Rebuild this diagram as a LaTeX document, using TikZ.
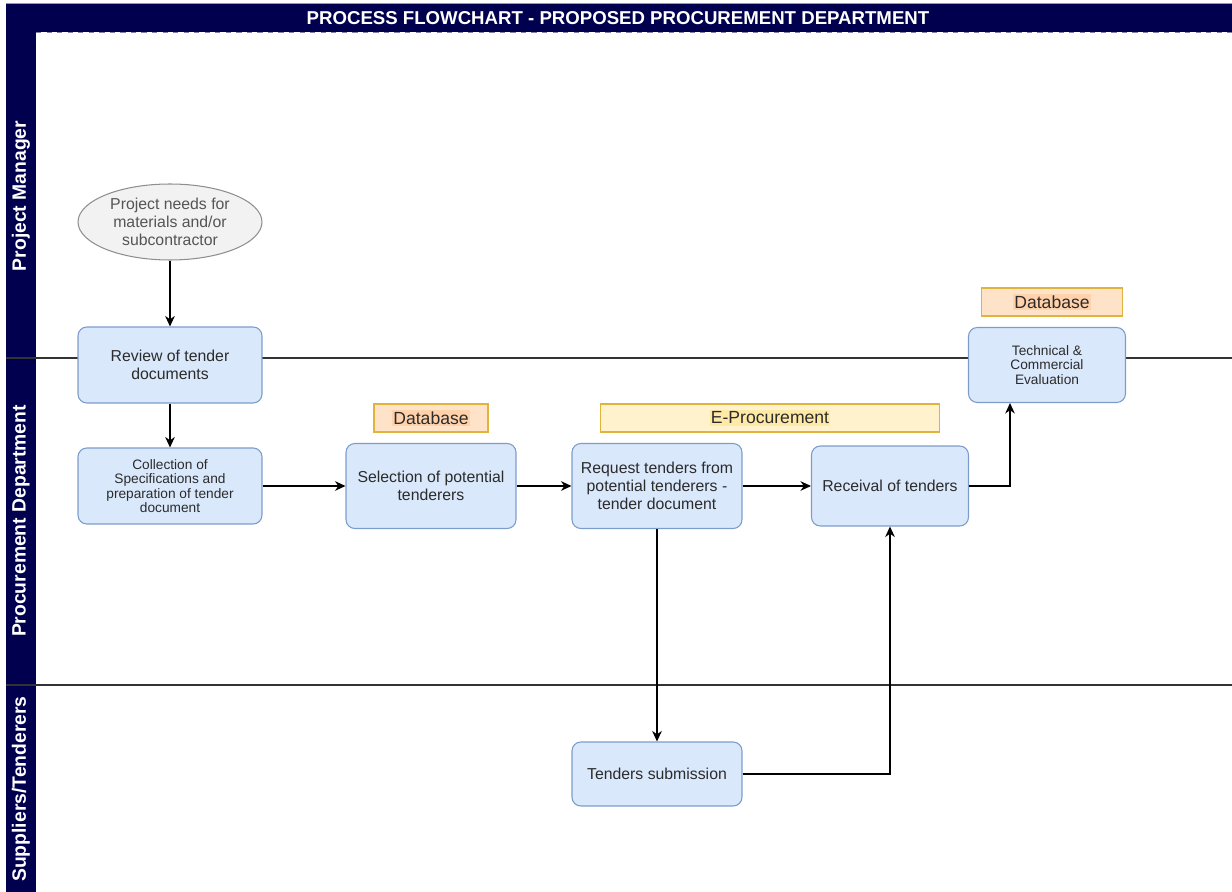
\documentclass[tikz,border=0pt]{standalone}
\usepackage{fontspec}
\setmainfont{Liberation Sans}
\usepackage{tikz,xcolor}
\usetikzlibrary{positioning,arrows.meta,shapes.geometric}
\definecolor{navy}{HTML}{00004F}
\definecolor{boxfill}{HTML}{DAE8FC}
\definecolor{boxline}{HTML}{7C9CCB}
\definecolor{dbfill}{HTML}{FFE3C8}
\definecolor{dbmark}{HTML}{FFD2AC}
\definecolor{epfill}{HTML}{FFF2CC}
\definecolor{epmark}{HTML}{FFE9A6}
\definecolor{tagline}{HTML}{E2B33C}
\definecolor{startfill}{HTML}{F2F2F2}
\definecolor{startline}{HTML}{8F8F8F}
\definecolor{txt}{HTML}{2B2B2B}
\setlength{\fboxsep}{0.8pt}
\tikzset{
    task/.style={draw=boxline, fill=boxfill, line width=0.6pt, rounded corners=5pt, align=center, text=txt, inner sep=1pt, font=\fontsize{9}{10.4}\selectfont}, % process box
    small/.style={font=\fontsize{7.8}{8.2}\selectfont},
    start/.style={ellipse, draw=startline, fill=startfill, line width=0.6pt, align=center, text=txt!80, inner sep=0pt, minimum width=3.68cm, minimum height=1.52cm, font=\fontsize{9}{10.4}\selectfont},
    tag/.style={draw=tagline, line width=0.6pt, minimum height=0.56cm, inner sep=0pt, text=txt, font=\fontsize{10}{12}\selectfont},
    lanename/.style={rotate=90, text=white, font=\bfseries\fontsize{11}{13}\selectfont},
    lane/.style={draw=black!80, line width=0.6pt},
    link/.style={draw, line width=0.7pt, -{Stealth[length=6pt,width=5.5pt]}}
}

\begin{document}
\begin{tikzpicture}[x=0.02cm, y=-0.02cm]
    \useasboundingbox (0,0) rectangle (1232,892);

    % header and swimlanes
    \draw[black!40, line width=0.5pt] (6,3) -- (1232,3);
    \fill[navy] (6,4) rectangle (1232,32);
    \fill[navy] (6,32) rectangle (36,892);
    \draw[navy!50, dashed, line width=0.5pt] (36,32.5) -- (1232,32.5);
    \draw[lane] (6,358) -- (1232,358);
    \draw[lane] (6,685) -- (1232,685);
    \node (title) [text=white, font=\bfseries\fontsize{10.6}{12}\selectfont] at (618,18) {PROCESS FLOWCHART - PROPOSED PROCUREMENT DEPARTMENT};
    \node (pm) [lanename] at (21,196) {Project Manager};
    \node (pd) [lanename] at (21,521) {Procurement Department};
    \node (st) [lanename] at (21,789) {Suppliers/Tenderers};

    % steps
    \node (need) [start] at (170,222) {Project needs for\\materials and/or\\subcontractor};
    \node (review) [task, minimum width=3.68cm, minimum height=1.52cm] at (170,365) {Review of tender\\documents};
    \node (collect) [task, small, minimum width=3.68cm, minimum height=1.52cm] at (170,486) {Collection of\\Specifications and\\preparation of tender\\document};
    \node (select) [task, minimum width=3.4cm, minimum height=1.7cm] at (431,486) {Selection of potential\\tenderers};
    \node (request) [task, minimum width=3.4cm, minimum height=1.7cm] at (657,486) {Request tenders from\\potential tenderers -\\tender document};
    \node (receive) [task, minimum width=3.14cm, minimum height=1.6cm] at (890,486) {Receival of tenders};
    \node (eval) [task, small, minimum width=3.14cm, minimum height=1.5cm] at (1047,365) {Technical \&\\Commercial\\Evaluation};
    \node (submit) [task, minimum width=3.4cm, minimum height=1.28cm] at (657,774) {Tenders submission};

    % systems used
    \node (db1) [tag, fill=dbfill, minimum width=2.28cm] at (431,418) {\colorbox{dbmark}{Database}};
    \node (eproc) [tag, fill=epfill, minimum width=6.8cm] at (770,418) {\colorbox{epmark}{E-Procurement}};
    \node (db2) [tag, fill=dbfill, minimum width=2.82cm] at (1052,302) {\colorbox{dbmark}{Database}};

    % flow
    \draw[link] (need) -- (review);
    \draw[link] (review) -- (collect);
    \draw[link] (collect) -- (select);
    \draw[link] (select) -- (request);
    \draw[link] (request) -- (receive);
    \draw[link] (receive.east) -| ([xshift=-0.74cm]eval.south);
    \draw[link] (request) -- (submit);
    \draw[link] (submit.east) -| (receive.south);
\end{tikzpicture}
\end{document}
